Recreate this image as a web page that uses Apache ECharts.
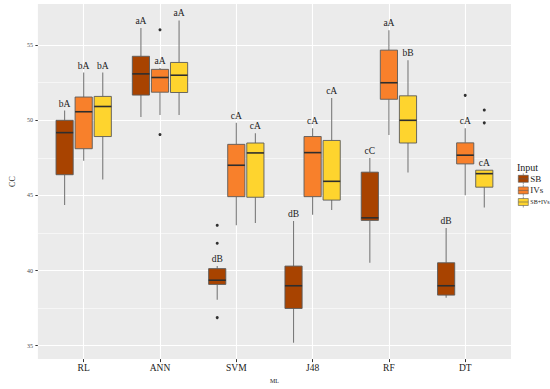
<!DOCTYPE html>
<html>
<head>
<meta charset="utf-8">
<script src="https://cdn.jsdelivr.net/npm/echarts@6/dist/echarts.min.js"></script>
<style>
html,body{margin:0;padding:0;background:#fff;}
#chart{width:550px;height:389px;}
</style>
</head>
<body>
<div id="chart"></div>
<script>
// ---------------- data ----------------
const categories = ['RL', 'ANN', 'SVM', 'J48', 'RF', 'DT'];
const inputs = ['SB', 'IVs', 'SB+IVs'];
const yTicks = [35, 40, 45, 50, 55];
const yMinorTicks = [37.5, 42.5, 47.5, 52.5];

// [min, Q1, median, Q3, max] per category (RL, ANN, SVM, J48, RF, DT)
const statsSB = [
  [44.36, 46.38, 49.18, 50.00, 50.65],
  [50.22, 51.68, 53.09, 54.26, 56.15],
  [38.06, 39.08, 39.36, 40.13, 40.30],
  [35.20, 37.48, 38.99, 40.30, 43.30],
  [40.52, 43.34, 43.51, 46.55, 47.49],
  [38.19, 38.37, 38.99, 40.52, 42.84]
];
const statsIVs = [
  [47.31, 48.11, 50.57, 51.55, 53.18],
  [50.35, 51.87, 52.85, 53.39, 53.48],
  [43.01, 44.92, 47.01, 48.40, 49.83],
  [43.71, 44.92, 47.85, 48.92, 49.48],
  [49.03, 51.40, 52.50, 54.67, 56.00],
  [45.01, 47.10, 47.68, 48.50, 49.48]
];
const statsSBIVs = [
  [46.06, 48.92, 50.92, 51.59, 53.18],
  [50.35, 51.85, 53.00, 53.85, 56.65],
  [43.16, 44.88, 47.83, 48.49, 49.14],
  [44.04, 44.69, 45.94, 48.66, 51.48],
  [46.53, 48.49, 50.00, 51.63, 54.00],
  [44.19, 45.55, 46.45, 46.68, 46.71]
];
// outliers: [category, value]
const outliersSB = [['SVM', 43.01], ['SVM', 41.82], ['SVM', 36.87]];
const outliersIVs = [['ANN', 56.02], ['ANN', 49.05], ['DT', 51.66]];
const outliersSBIVs = [['DT', 50.68], ['DT', 49.83]];
// significance letters
const lettersSB = ['bA', 'aA', 'dB', 'dB', 'cC', 'dB'];
const lettersIVs = ['bA', 'aA', 'cA', 'cA', 'aA', 'cA'];
const lettersSBIVs = ['bA', 'aA', 'cA', 'cA', 'bB', 'cA'];

// ---------------- styling / layout ----------------
const colors = ['#A84300', '#F8802B', '#FED42E'];
const statsAll = [statsSB, statsIVs, statsSBIVs];
const outliersAll = [outliersSB, outliersIVs, outliersSBIVs];
const lettersAll = [lettersSB, lettersIVs, lettersSBIVs];
const dodge = [-0.25, 0, 0.25];
const boxW = 0.225;
const serif = '"Liberation Serif", "DejaVu Serif", serif';

function makeRender(s) {
  return function (params, api) {
    const x = api.value(0);
    const pMin = api.coord([x, api.value(1)]);
    const pQ1 = api.coord([x, api.value(2)]);
    const pMed = api.coord([x, api.value(3)]);
    const pQ3 = api.coord([x, api.value(4)]);
    const pMax = api.coord([x, api.value(5)]);
    const hw = api.size([boxW, 0])[0] / 2;
    const cx = pMed[0];
    return {
      type: 'group',
      children: [
        { type: 'line', shape: { x1: cx, y1: pQ3[1], x2: cx, y2: pMax[1] },
          style: { stroke: '#7a7a7a', lineWidth: 1.1 } },
        { type: 'line', shape: { x1: cx, y1: pQ1[1], x2: cx, y2: pMin[1] },
          style: { stroke: '#7a7a7a', lineWidth: 1.1 } },
        { type: 'rect', shape: { x: cx - hw, y: pQ3[1], width: hw * 2, height: pQ1[1] - pQ3[1] },
          style: { fill: colors[s], stroke: '#5a5a5a', lineWidth: 0.9 } },
        { type: 'line', shape: { x1: cx - hw, y1: pMed[1], x2: cx + hw, y2: pMed[1] },
          style: { stroke: '#2e2e2e', lineWidth: 1.6 } },
        { type: 'text', x: cx, y: pMax[1] - 7,
          style: { text: lettersAll[s][params.dataIndex], align: 'center', verticalAlign: 'middle',
                   fontSize: 9.5, fontFamily: serif, fill: '#1a1a1a' } }
      ]
    };
  };
}

const gridLines = [];
yTicks.forEach(function (v) { gridLines.push({ yAxis: v, lineStyle: { width: 1.1 } }); });
yMinorTicks.forEach(function (v) { gridLines.push({ yAxis: v, lineStyle: { width: 0.55 } }); });
categories.forEach(function (c, i) { gridLines.push({ xAxis: i, lineStyle: { width: 1.1 } }); });

const series = [{
  name: 'grid',
  type: 'line',
  z: 1,
  data: [],
  silent: true,
  markLine: {
    z: 1,
    silent: true,
    symbol: ['none', 'none'],
    label: { show: false },
    animation: false,
    lineStyle: { color: '#ffffff', type: 'solid' },
    data: gridLines
  }
}];
inputs.forEach(function (name, s) {
  series.push({
    name: name,
    type: 'custom',
    z: 3,
    itemStyle: { color: colors[s] },
    renderItem: makeRender(s),
    encode: { x: 0, y: [1, 2, 3, 4, 5] },
    data: statsAll[s].map(function (st, i) { return [i + dodge[s]].concat(st); })
  });
});
inputs.forEach(function (name, s) {
  series.push({
    name: name + ' outliers',
    type: 'scatter',
    z: 4,
    symbolSize: 3,
    itemStyle: { color: '#000' },
    silent: true,
    data: outliersAll[s].map(function (o) { return [categories.indexOf(o[0]) + dodge[s], o[1]]; })
  });
});

const chart = echarts.init(document.getElementById('chart'), null, { renderer: 'svg' });
chart.setOption({
  animation: false,
  backgroundColor: '#ffffff',
  title: {
    text: 'Input', left: 512, top: 157,
    textStyle: { fontFamily: serif, fontSize: 10, fontWeight: 'normal', color: '#1a1a1a' }
  },
  legend: {
    orient: 'vertical', left: 513, top: 168,
    itemWidth: 10, itemHeight: 11, itemGap: 0,
    icon: 'path://M0,2H10V9H0Z M0,5.5H10 M5,0V2 M5,9V11',
    data: inputs.map(function (n, s) {
      return { name: n, itemStyle: { color: colors[s], borderColor: '#5a5a5a', borderWidth: 0.6 } };
    }),
    formatter: function (n) { return n === 'SB+IVs' ? '{s|SB+IVs}' : n; },
    textStyle: { fontFamily: serif, fontSize: 9, color: '#1a1a1a', padding: [0, 0, 0, -3],
      rich: { s: { fontFamily: serif, fontSize: 6, color: '#1a1a1a' } } },
    selectedMode: false
  },
  grid: { left: 23, top: 4, width: 488, height: 363, show: true, backgroundColor: '#EBEBEB', borderWidth: 0 },
  xAxis: {
    type: 'value', min: -0.6, max: 5.6,
    name: 'ML', nameLocation: 'middle', nameGap: 13,
    nameTextStyle: { fontFamily: serif, fontSize: 6, color: '#1a1a1a' },
    axisLine: { show: false, onZero: false },
    axisTick: { show: true, length: 3, customValues: [0, 1, 2, 3, 4, 5], lineStyle: { color: '#333' } },
    axisLabel: { customValues: [0, 1, 2, 3, 4, 5], margin: 4,
      formatter: function (v) { return categories[Math.round(v)]; },
      fontFamily: serif, fontSize: 9.5, color: '#1a1a1a' },
    splitLine: { show: false }
  },
  yAxis: {
    type: 'value', min: 34.11, max: 57.74,
    name: 'CC', nameLocation: 'middle', nameGap: 14, nameRotate: 90,
    nameTextStyle: { fontFamily: serif, fontSize: 8, color: '#1a1a1a' },
    axisLine: { show: false, onZero: false },
    axisTick: { show: true, length: 2.5, customValues: yTicks, lineStyle: { color: '#333' } },
    axisLabel: { customValues: yTicks, margin: 5, fontFamily: serif, fontSize: 6, color: '#4d4d4d' },
    splitLine: { show: false }
  },
  series: series
});
</script>
</body>
</html>
